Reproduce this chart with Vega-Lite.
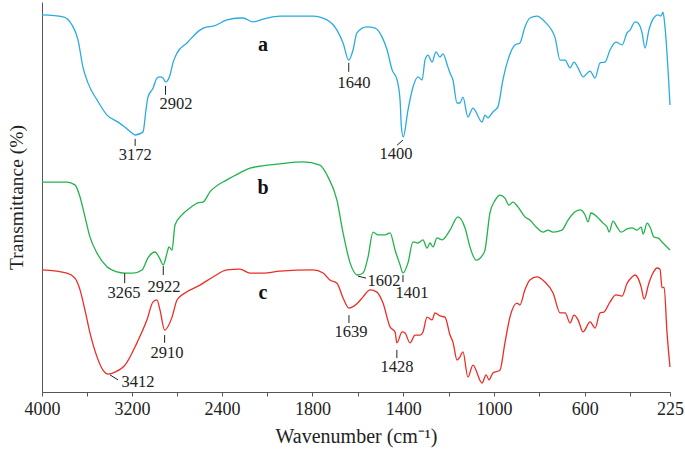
{
  "$schema": "https://vega.github.io/schema/vega-lite/v6.json",
  "width": 628,
  "height": 390,
  "autosize": {"type": "none"},
  "padding": {"left": 42, "top": 2, "right": 15, "bottom": 61},
  "config": {"view": {"stroke": null}, "font": "Liberation Serif"},
  "datasets": {
    "spectra": [
      {"s":"a","w":4000,"t":96.7},{"s":"a","w":3813,"t":96.2},{"s":"a","w":3733,"t":94.1},{"s":"a","w":3680,"t":90.3},{"s":"a","w":3636,"t":83.3},{"s":"a","w":3591,"t":79.2},{"s":"a","w":3511,"t":74.9},{"s":"a","w":3422,"t":71.0},{"s":"a","w":3324,"t":69.2},{"s":"a","w":3262,"t":67.9},{"s":"a","w":3200,"t":66.4},{"s":"a","w":3172,"t":65.9},{"s":"a","w":3102,"t":66.7},{"s":"a","w":3076,"t":72.3},{"s":"a","w":3058,"t":75.6},{"s":"a","w":3013,"t":77.9},{"s":"a","w":2978,"t":80.5},{"s":"a","w":2951,"t":80.8},{"s":"a","w":2924,"t":80.5},{"s":"a","w":2902,"t":79.5},{"s":"a","w":2862,"t":81.3},{"s":"a","w":2836,"t":84.4},{"s":"a","w":2800,"t":86.9},{"s":"a","w":2711,"t":89.5},{"s":"a","w":2596,"t":92.8},{"s":"a","w":2533,"t":93.6},{"s":"a","w":2480,"t":93.8},{"s":"a","w":2356,"t":95.4},{"s":"a","w":2240,"t":95.9},{"s":"a","w":2213,"t":95.9},{"s":"a","w":2124,"t":94.9},{"s":"a","w":2036,"t":95.6},{"s":"a","w":1943,"t":96.4},{"s":"a","w":1797,"t":96.4},{"s":"a","w":1736,"t":95.4},{"s":"a","w":1692,"t":92.8},{"s":"a","w":1665,"t":89.5},{"s":"a","w":1640,"t":85.1},{"s":"a","w":1621,"t":87.7},{"s":"a","w":1604,"t":92.1},{"s":"a","w":1560,"t":93.6},{"s":"a","w":1524,"t":93.3},{"s":"a","w":1493,"t":91.0},{"s":"a","w":1471,"t":87.7},{"s":"a","w":1449,"t":82.6},{"s":"a","w":1427,"t":80.0},{"s":"a","w":1414,"t":74.9},{"s":"a","w":1408,"t":68.0},{"s":"a","w":1400,"t":65.4},{"s":"a","w":1379,"t":72.3},{"s":"a","w":1357,"t":78.2},{"s":"a","w":1335,"t":80.8},{"s":"a","w":1317,"t":80.0},{"s":"a","w":1304,"t":85.1},{"s":"a","w":1291,"t":86.4},{"s":"a","w":1273,"t":84.6},{"s":"a","w":1256,"t":87.2},{"s":"a","w":1238,"t":85.9},{"s":"a","w":1225,"t":86.7},{"s":"a","w":1203,"t":83.3},{"s":"a","w":1194,"t":81.8},{"s":"a","w":1181,"t":80.0},{"s":"a","w":1163,"t":74.1},{"s":"a","w":1150,"t":74.1},{"s":"a","w":1137,"t":75.6},{"s":"a","w":1115,"t":70.5},{"s":"a","w":1093,"t":72.8},{"s":"a","w":1053,"t":69.2},{"s":"a","w":1040,"t":71.0},{"s":"a","w":1027,"t":70.3},{"s":"a","w":1005,"t":71.8},{"s":"a","w":983,"t":73.1},{"s":"a","w":961,"t":80.0},{"s":"a","w":939,"t":85.1},{"s":"a","w":908,"t":89.0},{"s":"a","w":886,"t":89.5},{"s":"a","w":864,"t":93.6},{"s":"a","w":842,"t":95.9},{"s":"a","w":811,"t":96.4},{"s":"a","w":776,"t":94.9},{"s":"a","w":731,"t":90.8},{"s":"a","w":709,"t":85.1},{"s":"a","w":687,"t":85.1},{"s":"a","w":665,"t":83.1},{"s":"a","w":648,"t":84.6},{"s":"a","w":630,"t":83.1},{"s":"a","w":608,"t":80.8},{"s":"a","w":577,"t":82.3},{"s":"a","w":555,"t":80.5},{"s":"a","w":533,"t":84.4},{"s":"a","w":511,"t":84.6},{"s":"a","w":489,"t":87.7},{"s":"a","w":463,"t":89.7},{"s":"a","w":436,"t":89.0},{"s":"a","w":414,"t":92.1},{"s":"a","w":401,"t":92.8},{"s":"a","w":379,"t":94.9},{"s":"a","w":366,"t":94.6},{"s":"a","w":348,"t":92.1},{"s":"a","w":335,"t":88.2},{"s":"a","w":318,"t":92.8},{"s":"a","w":300,"t":95.6},{"s":"a","w":278,"t":96.7},{"s":"a","w":265,"t":96.4},{"s":"a","w":256,"t":97.4},{"s":"a","w":247,"t":93.6},{"s":"a","w":225,"t":73.6},
      {"s":"b","w":4000,"t":53.8},{"s":"b","w":3778,"t":53.8},{"s":"b","w":3707,"t":53.1},{"s":"b","w":3662,"t":50.0},{"s":"b","w":3618,"t":44.9},{"s":"b","w":3573,"t":39.7},{"s":"b","w":3511,"t":35.6},{"s":"b","w":3422,"t":32.1},{"s":"b","w":3333,"t":30.8},{"s":"b","w":3265,"t":30.5},{"s":"b","w":3191,"t":30.5},{"s":"b","w":3111,"t":31.3},{"s":"b","w":3058,"t":34.4},{"s":"b","w":2996,"t":35.9},{"s":"b","w":2960,"t":34.6},{"s":"b","w":2922,"t":32.6},{"s":"b","w":2889,"t":35.6},{"s":"b","w":2871,"t":37.2},{"s":"b","w":2844,"t":36.4},{"s":"b","w":2818,"t":42.8},{"s":"b","w":2756,"t":45.4},{"s":"b","w":2684,"t":47.2},{"s":"b","w":2613,"t":48.5},{"s":"b","w":2569,"t":48.7},{"s":"b","w":2507,"t":51.3},{"s":"b","w":2356,"t":54.4},{"s":"b","w":2240,"t":56.2},{"s":"b","w":2151,"t":57.4},{"s":"b","w":1943,"t":58.5},{"s":"b","w":1841,"t":59.0},{"s":"b","w":1767,"t":58.2},{"s":"b","w":1731,"t":55.1},{"s":"b","w":1692,"t":49.2},{"s":"b","w":1665,"t":40.8},{"s":"b","w":1634,"t":33.1},{"s":"b","w":1602,"t":30.0},{"s":"b","w":1577,"t":30.5},{"s":"b","w":1555,"t":34.6},{"s":"b","w":1533,"t":41.0},{"s":"b","w":1511,"t":40.3},{"s":"b","w":1480,"t":40.3},{"s":"b","w":1458,"t":40.8},{"s":"b","w":1436,"t":36.4},{"s":"b","w":1414,"t":32.6},{"s":"b","w":1401,"t":30.5},{"s":"b","w":1379,"t":33.1},{"s":"b","w":1357,"t":38.5},{"s":"b","w":1335,"t":38.2},{"s":"b","w":1313,"t":39.0},{"s":"b","w":1295,"t":36.9},{"s":"b","w":1282,"t":38.2},{"s":"b","w":1269,"t":37.2},{"s":"b","w":1251,"t":39.5},{"s":"b","w":1229,"t":39.0},{"s":"b","w":1194,"t":41.5},{"s":"b","w":1159,"t":44.9},{"s":"b","w":1128,"t":42.1},{"s":"b","w":1106,"t":37.2},{"s":"b","w":1079,"t":33.8},{"s":"b","w":1053,"t":34.9},{"s":"b","w":1040,"t":36.4},{"s":"b","w":1018,"t":45.9},{"s":"b","w":995,"t":49.2},{"s":"b","w":974,"t":50.5},{"s":"b","w":952,"t":49.7},{"s":"b","w":934,"t":47.9},{"s":"b","w":917,"t":48.7},{"s":"b","w":894,"t":47.4},{"s":"b","w":864,"t":44.9},{"s":"b","w":842,"t":44.1},{"s":"b","w":811,"t":42.1},{"s":"b","w":784,"t":41.0},{"s":"b","w":762,"t":41.5},{"s":"b","w":740,"t":41.0},{"s":"b","w":701,"t":41.5},{"s":"b","w":674,"t":44.1},{"s":"b","w":643,"t":46.2},{"s":"b","w":621,"t":46.7},{"s":"b","w":599,"t":45.4},{"s":"b","w":586,"t":43.6},{"s":"b","w":573,"t":45.9},{"s":"b","w":546,"t":44.9},{"s":"b","w":520,"t":43.3},{"s":"b","w":502,"t":42.3},{"s":"b","w":493,"t":41.0},{"s":"b","w":476,"t":43.8},{"s":"b","w":458,"t":42.3},{"s":"b","w":441,"t":41.0},{"s":"b","w":414,"t":41.8},{"s":"b","w":392,"t":42.1},{"s":"b","w":370,"t":41.5},{"s":"b","w":352,"t":42.3},{"s":"b","w":343,"t":40.5},{"s":"b","w":326,"t":43.3},{"s":"b","w":313,"t":42.3},{"s":"b","w":295,"t":39.7},{"s":"b","w":278,"t":39.5},{"s":"b","w":256,"t":38.2},{"s":"b","w":225,"t":36.4},
      {"s":"c","w":4000,"t":31.3},{"s":"c","w":3778,"t":30.5},{"s":"c","w":3707,"t":29.2},{"s":"c","w":3662,"t":26.2},{"s":"c","w":3618,"t":21.0},{"s":"c","w":3573,"t":15.1},{"s":"c","w":3511,"t":9.0},{"s":"c","w":3458,"t":5.6},{"s":"c","w":3412,"t":4.6},{"s":"c","w":3351,"t":5.1},{"s":"c","w":3262,"t":6.9},{"s":"c","w":3156,"t":12.6},{"s":"c","w":3067,"t":18.5},{"s":"c","w":3013,"t":23.1},{"s":"c","w":2978,"t":23.6},{"s":"c","w":2951,"t":21.0},{"s":"c","w":2910,"t":15.9},{"s":"c","w":2844,"t":19.2},{"s":"c","w":2800,"t":23.6},{"s":"c","w":2729,"t":25.4},{"s":"c","w":2596,"t":27.4},{"s":"c","w":2480,"t":29.5},{"s":"c","w":2356,"t":31.3},{"s":"c","w":2240,"t":31.5},{"s":"c","w":2151,"t":30.5},{"s":"c","w":2036,"t":30.5},{"s":"c","w":1943,"t":31.0},{"s":"c","w":1797,"t":31.3},{"s":"c","w":1753,"t":30.5},{"s":"c","w":1723,"t":28.7},{"s":"c","w":1692,"t":27.9},{"s":"c","w":1665,"t":24.1},{"s":"c","w":1639,"t":21.5},{"s":"c","w":1604,"t":22.6},{"s":"c","w":1577,"t":24.4},{"s":"c","w":1546,"t":26.2},{"s":"c","w":1516,"t":25.6},{"s":"c","w":1489,"t":22.8},{"s":"c","w":1458,"t":16.7},{"s":"c","w":1436,"t":15.4},{"s":"c","w":1428,"t":12.6},{"s":"c","w":1405,"t":15.4},{"s":"c","w":1392,"t":15.1},{"s":"c","w":1370,"t":12.6},{"s":"c","w":1348,"t":14.6},{"s":"c","w":1326,"t":14.6},{"s":"c","w":1313,"t":15.4},{"s":"c","w":1295,"t":19.2},{"s":"c","w":1273,"t":18.5},{"s":"c","w":1260,"t":20.3},{"s":"c","w":1238,"t":19.5},{"s":"c","w":1216,"t":19.2},{"s":"c","w":1194,"t":14.6},{"s":"c","w":1181,"t":12.8},{"s":"c","w":1163,"t":8.2},{"s":"c","w":1150,"t":9.0},{"s":"c","w":1137,"t":10.3},{"s":"c","w":1115,"t":3.8},{"s":"c","w":1093,"t":6.9},{"s":"c","w":1053,"t":2.3},{"s":"c","w":1035,"t":4.4},{"s":"c","w":1022,"t":3.1},{"s":"c","w":1005,"t":4.9},{"s":"c","w":974,"t":5.6},{"s":"c","w":952,"t":12.6},{"s":"c","w":930,"t":19.2},{"s":"c","w":899,"t":22.8},{"s":"c","w":886,"t":22.3},{"s":"c","w":864,"t":26.2},{"s":"c","w":842,"t":28.7},{"s":"c","w":811,"t":29.5},{"s":"c","w":776,"t":28.2},{"s":"c","w":740,"t":25.4},{"s":"c","w":709,"t":20.3},{"s":"c","w":687,"t":20.3},{"s":"c","w":665,"t":17.7},{"s":"c","w":648,"t":19.7},{"s":"c","w":630,"t":18.5},{"s":"c","w":608,"t":15.4},{"s":"c","w":577,"t":18.0},{"s":"c","w":555,"t":16.4},{"s":"c","w":533,"t":20.3},{"s":"c","w":516,"t":20.5},{"s":"c","w":489,"t":23.1},{"s":"c","w":463,"t":24.9},{"s":"c","w":436,"t":24.6},{"s":"c","w":414,"t":27.9},{"s":"c","w":392,"t":29.5},{"s":"c","w":379,"t":30.0},{"s":"c","w":366,"t":29.2},{"s":"c","w":352,"t":26.9},{"s":"c","w":339,"t":23.8},{"s":"c","w":318,"t":27.9},{"s":"c","w":300,"t":30.5},{"s":"c","w":282,"t":31.8},{"s":"c","w":269,"t":31.5},{"s":"c","w":260,"t":26.7},{"s":"c","w":251,"t":26.9},{"s":"c","w":238,"t":15.1},{"s":"c","w":225,"t":6.4}
    ],
    "peaks": [
      {"label":"3172","w":3172,"t":64.9,"w2":3172,"t2":63.1,"lw":3172,"lt":60.8},
      {"label":"2902","w":2902,"t":78.5,"w2":2902,"t2":76.2,"lw":2809,"lt":73.8},
      {"label":"1640","w":1640,"t":84.4,"w2":1640,"t2":82.1,"lw":1617,"lt":79.2},
      {"label":"1400","w":1401,"t":64.6,"w2":1427,"t2":63.3,"lw":1432,"lt":61.0},
      {"label":"3265","w":3265,"t":30.5,"w2":3265,"t2":27.9,"lw":3271,"lt":25.4},
      {"label":"2922","w":2922,"t":32.3,"w2":2922,"t2":30.0,"lw":2916,"lt":26.9},
      {"label":"3412","w":3396,"t":4.4,"w2":3324,"t2":3.1,"lw":3147,"lt":2.6},
      {"label":"2910","w":2910,"t":14.6,"w2":2910,"t2":12.6,"lw":2890,"lt":10.0},
      {"label":"1602","w":1599,"t":29.7,"w2":1564,"t2":29.2,"lw":1485,"lt":28.5},
      {"label":"1401","w":1401,"t":30.0,"w2":1401,"t2":28.2,"lw":1361,"lt":25.4},
      {"label":"1639","w":1639,"t":19.7,"w2":1639,"t2":17.7,"lw":1630,"lt":15.4},
      {"label":"1428","w":1428,"t":10.8,"w2":1428,"t2":8.7,"lw":1427,"lt":6.4}
    ],
    "names": [
      {"name":"a","w":2036,"t":89.0},
      {"name":"b","w":2036,"t":52.3},
      {"name":"c","w":2036,"t":25.4}
    ]
  },
  "layer": [
    {
      "data": {"name": "spectra"},
      "mark": {"type": "line", "strokeWidth": 1.3, "interpolate": "monotone"},
      "encoding": {
        "x": {
          "field": "w", "type": "quantitative",
          "scale": {"domain": [4000, 2000, 225], "range": [0, 225, 628], "zero": false, "nice": false},
          "axis": {
            "values": [4000,3600,3200,2800,2400,2000,1800,1600,1400,1200,1000,800,600,400,225],
            "format": "d",
            "labelExpr": "indexof([4000,3200,2400,1800,1400,1000,600,225], datum.value) >= 0 ? datum.label : ''",
            "grid": false, "domainColor": "#555", "tickColor": "#555", "tickSize": 4,
            "labelFont": "Liberation Serif", "labelFontSize": 18, "labelColor": "#222", "labelPadding": 4,
            "labelOverlap": false, "labelFlush": false, "labelBound": false,
            "title": "Wavenumber (cm⁻¹)", "titleFont": "Liberation Serif", "titleFontSize": 20,
            "titleFontWeight": "normal", "titleColor": "#222", "titlePadding": 8
          }
        },
        "y": {
          "field": "t", "type": "quantitative",
          "scale": {"domain": [0, 100], "zero": false, "nice": false},
          "axis": {
            "ticks": false, "labels": false, "grid": false, "domainColor": "#555",
            "title": "Transmittance (%)", "titleFont": "Liberation Serif", "titleFontSize": 19.5,
            "titleFontWeight": "normal", "titleColor": "#222", "titlePadding": 16
          }
        },
        "color": {
          "field": "s", "type": "nominal",
          "scale": {"domain": ["a", "b", "c"], "range": ["#29abe2", "#22b24c", "#ec2d24"]},
          "legend": null
        }
      }
    },
    {
      "data": {"name": "peaks"},
      "mark": {"type": "rule", "color": "#222", "strokeWidth": 1},
      "encoding": {
        "x": {"field": "w", "type": "quantitative"},
        "x2": {"field": "w2"},
        "y": {"field": "t", "type": "quantitative"},
        "y2": {"field": "t2"}
      }
    },
    {
      "data": {"name": "peaks"},
      "mark": {"type": "text", "font": "Liberation Serif", "fontSize": 16.5, "color": "#222", "align": "center", "baseline": "middle"},
      "encoding": {
        "x": {"field": "lw", "type": "quantitative"},
        "y": {"field": "lt", "type": "quantitative"},
        "text": {"field": "label"}
      }
    },
    {
      "data": {"name": "names"},
      "mark": {"type": "text", "font": "Liberation Serif", "fontSize": 20, "fontWeight": "bold", "color": "#111", "align": "center", "baseline": "middle"},
      "encoding": {
        "x": {"field": "w", "type": "quantitative"},
        "y": {"field": "t", "type": "quantitative"},
        "text": {"field": "name"}
      }
    }
  ]
}
